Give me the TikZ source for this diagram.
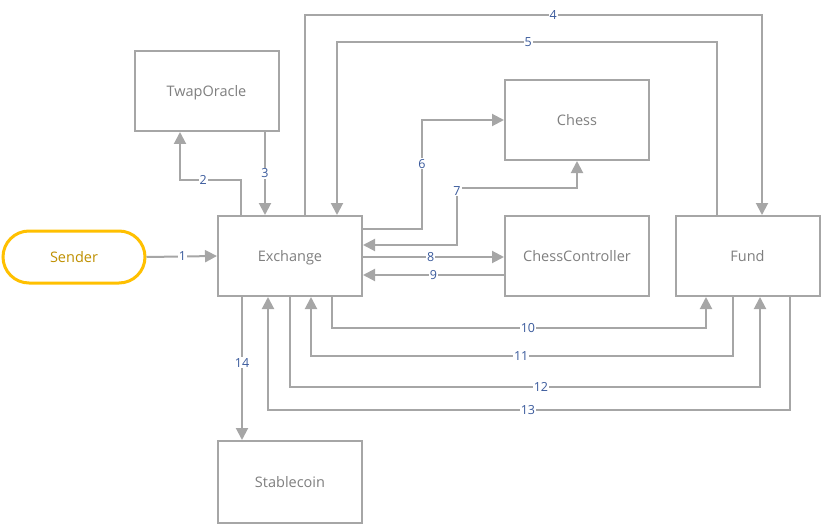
\documentclass[tikz,border=0pt]{standalone}
\usepackage{fontspec}
\setmainfont{Open Sans}
\usetikzlibrary{arrows.meta}
\definecolor{lgray}{HTML}{A6A6A6}
\definecolor{tgray}{HTML}{7F7F7F}
\definecolor{gold}{HTML}{FFC000}
\definecolor{goldtxt}{HTML}{BF9000}
\definecolor{lblue}{HTML}{3A5A9C}
\tikzset{
  box/.style={draw=lgray, line width=2pt, fill=white, minimum width=144pt, minimum height=80pt, inner sep=0pt, text=tgray, text height=12pt, text depth=1.5pt, font=\fontsize{14.5}{17}\selectfont},
  startbox/.style={draw=gold, line width=3pt, fill=white, minimum width=142pt, minimum height=52pt, rounded corners=26pt, inner sep=0pt, text=goldtxt, text height=12pt, text depth=1.5pt, font=\fontsize{14.5}{17}\selectfont},
  conn/.style={draw=lgray, line width=2pt, -{Triangle[length=12pt,width=12pt]}},
  conn2/.style={draw=lgray, line width=2pt, {Triangle[length=12pt,width=12pt]}-{Triangle[length=12pt,width=12pt]}},
  lbl/.style={fill=white, text=lblue, inner sep=1pt, font=\fontsize{12.5}{14}\selectfont},
}
\begin{document}
\begin{tikzpicture}[x=1pt,y=-1pt]
\useasboundingbox (0,0) rectangle (822,524);
\node[startbox] (sender) at (74,257) {Sender};
\node[box] (ex) at (290,256) {Exchange};
\node[box] (twap) at (206.5,91) {TwapOracle};
\node[box] (chess) at (577,120) {Chess};
\node[box] (cc) at (577,256) {ChessController};
\node[box] (fund) at (747.5,256) {Fund};
\node[box, minimum height=82pt] (stable) at (290,482) {Stablecoin};

\draw[conn] (sender.east) -- node[lbl,pos=0.51]{1} (ex.west);
\draw[conn] (ex.north -| 241,0) -- (241,180) -- node[lbl,pos=0.62]{2} (180,180) -- (twap.south -| 180,0);
\draw[conn] (twap.south -| 265,0) -- node[lbl,pos=0.5]{3} (ex.north -| 265,0);
\draw[conn] (ex.north -| 305,0) -- (305,15) -- node[lbl,pos=0.543]{4} (762,15) -- (fund.north -| 762,0);
\draw[conn] (fund.north -| 717,0) -- (717,42) -- node[lbl,pos=0.497]{5} (337,42) -- (ex.north -| 337,0);
\draw[conn] (ex.east |- 0,229) -- (422,229) -- node[lbl,pos=0.6]{6} (422,120) -- (chess.west);
\draw[conn2] (ex.east |- 0,245) -- (457,245) -- node[lbl,pos=0.95]{7} (457,188) -- (577,188) -- (chess.south);
\draw[conn] (ex.east |- 0,257) -- node[lbl,pos=0.48]{8} (cc.west |- 0,257);
\draw[conn] (cc.west |- 0,275) -- node[lbl,pos=0.5]{9} (ex.east |- 0,275);
\draw[conn] (ex.south -| 332,0) -- (332,328) -- node[lbl,pos=0.524]{10} (706,328) -- (fund.south -| 706,0);
\draw[conn] (fund.south -| 733,0) -- (733,356) -- node[lbl,pos=0.502]{11} (311,356) -- (ex.south -| 311,0);
\draw[conn] (ex.south -| 290,0) -- (290,387) -- node[lbl,pos=0.534]{12} (760,387) -- (fund.south -| 760,0);
\draw[conn] (fund.south -| 790,0) -- (790,410) -- node[lbl,pos=0.502]{13} (268,410) -- (ex.south -| 268,0);
\draw[conn] (ex.south -| 242,0) -- node[lbl,pos=0.46]{14} (stable.north -| 242,0);
\end{tikzpicture}
\end{document}
